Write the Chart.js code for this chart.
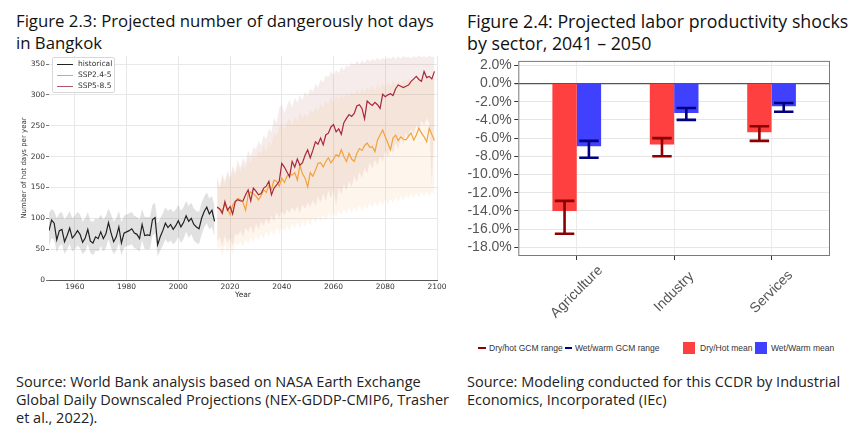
<!DOCTYPE html>
<html><head><meta charset="utf-8">
<script src="https://cdn.jsdelivr.net/npm/chart.js@4.4.1/dist/chart.umd.min.js"></script>
<style>
html,body{margin:0;padding:0;background:#fff;width:860px;height:442px;overflow:hidden;position:relative}
.title{position:absolute;font-family:'Open Sans',Roboto,sans-serif;font-weight:500;font-size:17px;line-height:22px;color:#111;white-space:nowrap}
.src{position:absolute;font-family:'Open Sans',Roboto,sans-serif;font-size:14.5px;line-height:18px;color:#222;white-space:nowrap}
#leftWrap{position:absolute;left:0;top:50px;width:455px;height:250px}
#rightWrap{position:absolute;left:455px;top:50px;width:405px;height:285px}
.llg{position:absolute;left:52px;top:57px;width:63px;height:36px;border:1px solid #d8d8d8;border-radius:2px;background:rgba(255,255,255,0.85);box-sizing:border-box}
.llg .row{position:absolute;left:0;height:10px;font-family:'DejaVu Sans',sans-serif;font-size:7.5px;line-height:10px;color:#333}
.llg .ln{position:absolute;left:4px;top:5px;width:16px;height:0;border-top:1.3px solid #000}
.llg .tx{position:absolute;left:25px;top:0;white-space:nowrap}
.rlg{position:absolute;font-family:'Liberation Sans',Arial,sans-serif;font-size:8.5px;line-height:12px;color:#333;white-space:nowrap}
.rlg .seg{position:absolute;height:0;border-top:2px solid}
.rlg .sq{position:absolute;width:12px;height:12px}
</style>
</head><body>
<div class="title" style="left:16px;top:10px;font-size:16.75px">Figure 2.3: Projected number of dangerously hot days<br>in Bangkok</div>
<div class="title" style="left:467px;top:10px;font-size:17.8px">Figure 2.4: Projected labor productivity shocks<br>by sector, 2041 – 2050</div>

<div id="leftWrap"><canvas id="c1" width="455" height="250"></canvas></div>
<div class="llg">
  <div class="row" style="top:1px"><div class="ln" style="border-color:#222"></div><div class="tx">historical</div></div>
  <div class="row" style="top:12px"><div class="ln" style="border-color:#f2a33a"></div><div class="tx">SSP2.4-5</div></div>
  <div class="row" style="top:23px"><div class="ln" style="border-color:#b0586a"></div><div class="tx">SSP5-8.5</div></div>
</div>

<div id="rightWrap"><canvas id="c2" width="405" height="285"></canvas></div>
<div class="rlg" style="left:0;top:342px;width:860px;height:12px">
  <div class="seg" style="left:478px;top:5px;width:8px;border-color:#8b0000"></div>
  <div style="position:absolute;left:489px;top:0">Dry/hot GCM range</div>
  <div class="seg" style="left:565px;top:5px;width:7px;border-color:#000080"></div>
  <div style="position:absolute;left:575px;top:0">Wet/warm GCM range</div>
  <div class="sq" style="left:683px;top:0;background:#ff4040"></div>
  <div style="position:absolute;left:700px;top:0">Dry/Hot mean</div>
  <div class="sq" style="left:755px;top:0;background:#4040ff"></div>
  <div style="position:absolute;left:771px;top:0">Wet/Warm mean</div>
</div>

<div class="src" style="left:16px;top:373px">Source: World Bank analysis based on NASA Earth Exchange<br>Global Daily Downscaled Projections (NEX-GDDP-CMIP6, Trasher<br>et al., 2022).</div>
<div class="src" style="left:467px;top:373px">Source: Modeling conducted for this CCDR by Industrial<br>Economics, Incorporated (IEc)</div>

<script>
// ---------- Figure 2.3 data ----------
const histStartYear = 1950;   // historical: 1950-2014
const projStartYear = 2015;   // projections: 2015-2099
const histMean = [80,97,92,65,80,82,62,72,84,68,
  73,80,74,61,68,82,63,60,70,67,
  78,67,75,93,76,62,70,86,60,76,
  78,80,83,76,74,67,90,72,73,72,
  98,101,57,70,80,92,85,90,82,88,
  96,86,93,104,95,100,90,86,83,100,
  111,118,107,113,95];
const histHigh = [108,115,112,100,108,110,98,104,112,100,
  104,110,106,95,100,110,96,94,100,98,
  106,98,104,116,106,95,100,112,94,104,
  106,108,110,104,102,98,115,102,102,102,
  122,125,92,100,108,118,112,116,110,114,
  122,112,118,128,120,125,116,112,110,125,
  135,142,132,136,120];
const histLow = [55,68,65,45,55,58,42,50,58,46,
  50,56,52,42,46,58,44,40,48,46,
  55,46,52,66,52,42,48,60,40,52,
  55,56,58,52,50,46,64,50,50,50,
  72,75,38,48,56,66,60,64,58,62,
  70,60,66,78,68,74,64,60,58,74,
  85,92,82,86,70];
const ssp245Mean = [119,115,112,122,116,106,121,128,132,130,
  126,113,138,143,140,136,130,137,146,142,
  153,147,162,160,152,165,158,168,172,170,
  174,162,186,172,165,151,174,168,178,189,
  190,183,192,198,190,196,203,200,211,200,
  192,205,196,192,205,213,210,218,222,215,
  216,208,227,235,243,232,222,211,230,235,
  226,232,228,227,233,238,227,235,246,238,
  232,224,246,236,226];
const ssp245High = [165,148,168,155,172,160,178,168,185,175,
  188,180,198,190,202,196,210,204,218,208,
  225,218,238,232,248,255,243,256,262,250,
  265,256,272,262,270,264,276,270,281,274,
  286,279,291,284,296,287,299,292,301,294,
  303,297,306,299,309,302,311,304,313,306,
  315,307,317,311,319,312,321,314,323,316,
  322,317,326,320,327,320,329,322,328,324,
  331,324,330,326,328];
const ssp245Low = [48,55,38,58,45,52,42,60,56,62,
  54,66,58,69,60,73,63,75,66,78,
  70,81,72,85,74,86,79,88,80,91,
  83,93,84,96,86,98,88,101,92,103,
  95,106,97,108,100,111,102,112,105,115,
  107,117,108,118,111,121,112,122,115,125,
  117,126,119,129,121,131,123,132,125,134,
  127,136,129,138,131,140,132,141,134,142,
  136,143,135,144,138];
const ssp585Mean = [118,115,108,127,113,119,107,127,130,128,
  128,138,146,128,149,144,138,140,149,152,
  160,138,149,154,160,189,183,175,167,192,
  183,196,186,190,202,211,198,210,224,220,
  230,219,235,238,248,252,240,245,236,255,
  262,268,265,270,282,284,278,261,290,286,
  283,288,284,278,301,297,300,302,299,310,
  316,314,312,314,316,322,326,330,325,322,
  338,328,330,326,338];
const ssp585High = [168,150,172,160,178,165,185,175,195,182,
  198,190,210,200,215,212,225,218,235,228,
  245,240,262,255,278,285,270,282,292,280,
  295,288,300,292,305,298,310,305,318,312,
  325,320,332,328,338,332,340,335,345,340,
  348,345,352,348,355,350,356,352,358,354,
  358,355,360,356,360,357,361,358,362,358,
  362,359,363,360,362,359,363,360,364,361,
  363,360,364,361,362];
const ssp585Low = [62,70,55,72,60,68,55,75,72,80,
  70,85,78,88,75,92,82,95,88,100,
  90,105,95,110,100,112,104,115,108,118,
  110,120,108,122,115,125,118,130,120,135,
  125,140,128,145,132,148,120,150,138,155,
  145,160,150,168,158,175,165,182,172,190,
  180,195,185,200,192,210,198,215,205,222,
  212,230,220,238,228,245,235,252,242,258,
  250,262,255,150,265];
const yearTicks = [1960,1980,2000,2020,2040,2060,2080,2100];
const hotDayTicks = [0,50,100,150,200,250,300,350];

// ---------- Figure 2.4 data ----------
const sectors = ['Agriculture','Industry','Services'];
const dryMean = [-14.0,-6.7,-5.35];
const wetMean = [-6.9,-3.25,-2.5];
const dryHigh = [-12.9,-6.0,-4.7];
const dryLow  = [-16.5,-8.0,-6.3];
const wetHigh = [-6.3,-2.7,-2.15];
const wetLow  = [-8.15,-4.0,-3.1];
const shockTicks = [2,0,-2,-4,-6,-8,-10,-12,-14,-16,-18];

// ---------- helpers ----------
function pts(start, vals){ return vals.map((v,i)=>({x:start+i, y:v})); }
const band = (vals, start, fill, bg) => ({data:pts(start, vals), fill:fill, backgroundColor:bg||'transparent',
  borderColor:'transparent', borderWidth:0, pointRadius:0, tension:0});
const line = (label, vals, start, color, w) => ({label, data:pts(start, vals), borderColor:color, borderWidth:w,
  pointRadius:0, fill:false, tension:0});

const dv = {family:'DejaVu Sans', size:7.5};

new Chart(document.getElementById('c1'), {
  type:'line',
  data:{datasets:[
    line('historical', histMean, histStartYear, '#222222', 1.2),
    line('SSP5-8.5', ssp585Mean, projStartYear, '#a8283c', 1.2),
    line('SSP2.4-5', ssp245Mean, projStartYear, '#f2a33a', 1.2),
    band(histHigh, histStartYear, '+1', 'rgba(128,128,128,0.24)'),
    band(histLow, histStartYear, false),
    band(ssp245High, projStartYear, '+1', 'rgba(245,175,100,0.12)'),
    band(ssp245Low, projStartYear, false),
    band(ssp585High, projStartYear, '+1', 'rgba(175,105,100,0.13)'),
    band(ssp585Low, projStartYear, false)
  ]},
  options:{
    responsive:false, animation:false,
    layout:{padding:{top:6,right:18,left:0,bottom:0}},
    plugins:{legend:{display:false}, tooltip:{enabled:false}},
    scales:{
      x:{type:'linear', min:1950, max:2100,
        afterBuildTicks:s=>{s.ticks=yearTicks.map(v=>({value:v}));},
        afterFit:s=>{s.height=20;},
        grid:{color:'#e8e8e8', drawTicks:false},
        border:{display:true, color:'#555', width:1},
        ticks:{font:dv, color:'#333', padding:3, maxRotation:0, autoSkip:false, callback:v=>String(v)},
        title:{display:true, text:'Year', font:dv, color:'#333', padding:{top:0,bottom:0.5}}
      },
      y:{type:'linear', min:0, max:363,
        afterBuildTicks:s=>{s.ticks=hotDayTicks.map(v=>({value:v}));},
        afterFit:s=>{s.width=49;},
        grid:{color:'#e8e8e8', tickLength:3, tickColor:'#777'},
        border:{display:false},
        ticks:{font:dv, color:'#333', padding:1, autoSkip:false, callback:v=>String(v)},
        title:{display:true, text:'Number of hot days per year', font:{family:'DejaVu Sans', size:7}, color:'#333', padding:{top:19.5,bottom:0}}
      }
    }
  }
});

const barPlugin = {
  id:'barExtras',
  afterDatasetsDraw(chart){
    const ctx = chart.ctx, ys = chart.scales.y;
    const specs = [[0, dryLow, dryHigh, '#8b0000'], [1, wetLow, wetHigh, '#000080']];
    specs.forEach(([di, lo, hi, col])=>{
      const meta = chart.getDatasetMeta(di);
      meta.data.forEach((bar, i)=>{
        const x = bar.x, y1 = ys.getPixelForValue(lo[i]), y2 = ys.getPixelForValue(hi[i]);
        const cap = bar.width*0.8/2;
        ctx.save();
        ctx.strokeStyle = col; ctx.lineWidth = 2.6; ctx.lineCap='butt';
        ctx.beginPath();
        ctx.moveTo(x, y1); ctx.lineTo(x, y2);
        ctx.moveTo(x-cap, y1); ctx.lineTo(x+cap, y1);
        ctx.moveTo(x-cap, y2); ctx.lineTo(x+cap, y2);
        ctx.stroke();
        ctx.restore();
      });
    });
  },
  afterDraw(chart){
    const ctx = chart.ctx, a = chart.chartArea, xs = chart.scales.x;
    ctx.save();
    ctx.strokeStyle = '#7a7a7a'; ctx.lineWidth = 1;
    ctx.strokeRect(a.left+0.5, a.top+0.5, a.right-a.left-1, a.bottom-a.top-1);
    ctx.fillStyle = '#555';
    ctx.font = '14px "Liberation Sans", Arial, sans-serif';
    ctx.textAlign = 'center'; ctx.textBaseline = 'middle';
    sectors.forEach((s,i)=>{
      const x = xs.getPixelForValue(i+1);
      ctx.save();
      ctx.translate(x, a.bottom+36);
      ctx.rotate(-Math.PI/4);
      ctx.fillText(s, 0, 0);
      ctx.restore();
    });
    ctx.restore();
  }
};

new Chart(document.getElementById('c2'), {
  type:'bar',
  data:{datasets:[
    {label:'Dry/Hot mean', data:sectors.map((s,i)=>({x:i+1, y:dryMean[i]})), backgroundColor:'#ff4040',
      categoryPercentage:0.5, barPercentage:1.0, borderWidth:0},
    {label:'Wet/Warm mean', data:sectors.map((s,i)=>({x:i+1, y:wetMean[i]})), backgroundColor:'#4040ff',
      categoryPercentage:0.5, barPercentage:1.0, borderWidth:0}
  ]},
  options:{
    responsive:false, animation:false,
    layout:{padding:{top:10,right:30,left:0,bottom:0}},
    plugins:{legend:{display:false}, tooltip:{enabled:false}},
    scales:{
      x:{type:'linear', min:0.4, max:3.6, offset:false,
        afterBuildTicks:s=>{s.ticks=sectors.map((c,i)=>({value:i+1}));},
        afterFit:s=>{s.height=79;},
        ticks:{display:false, autoSkip:false},
        grid:{offset:false, color:'#ebebeb', tickLength:4, tickColor:'#333'},
        border:{display:false}
      },
      y:{type:'linear', min:-18.95, max:2.48,
        afterBuildTicks:s=>{s.ticks=shockTicks.map(v=>({value:v}));},
        afterFit:s=>{s.width=63.3;},
        ticks:{font:{family:'Liberation Sans', size:14}, color:'#555', padding:2.5, autoSkip:false, callback:v=>v.toFixed(1)+'%'},
        grid:{color:c=> (c.tick && c.tick.value===0) ? '#555' : '#e6e6e6', lineWidth:c=> (c.tick && c.tick.value===0) ? 1.2 : 1, tickLength:4, tickColor:'#333'},
        border:{display:false}
      }
    }
  },
  plugins:[barPlugin]
});
</script>
</body></html>
